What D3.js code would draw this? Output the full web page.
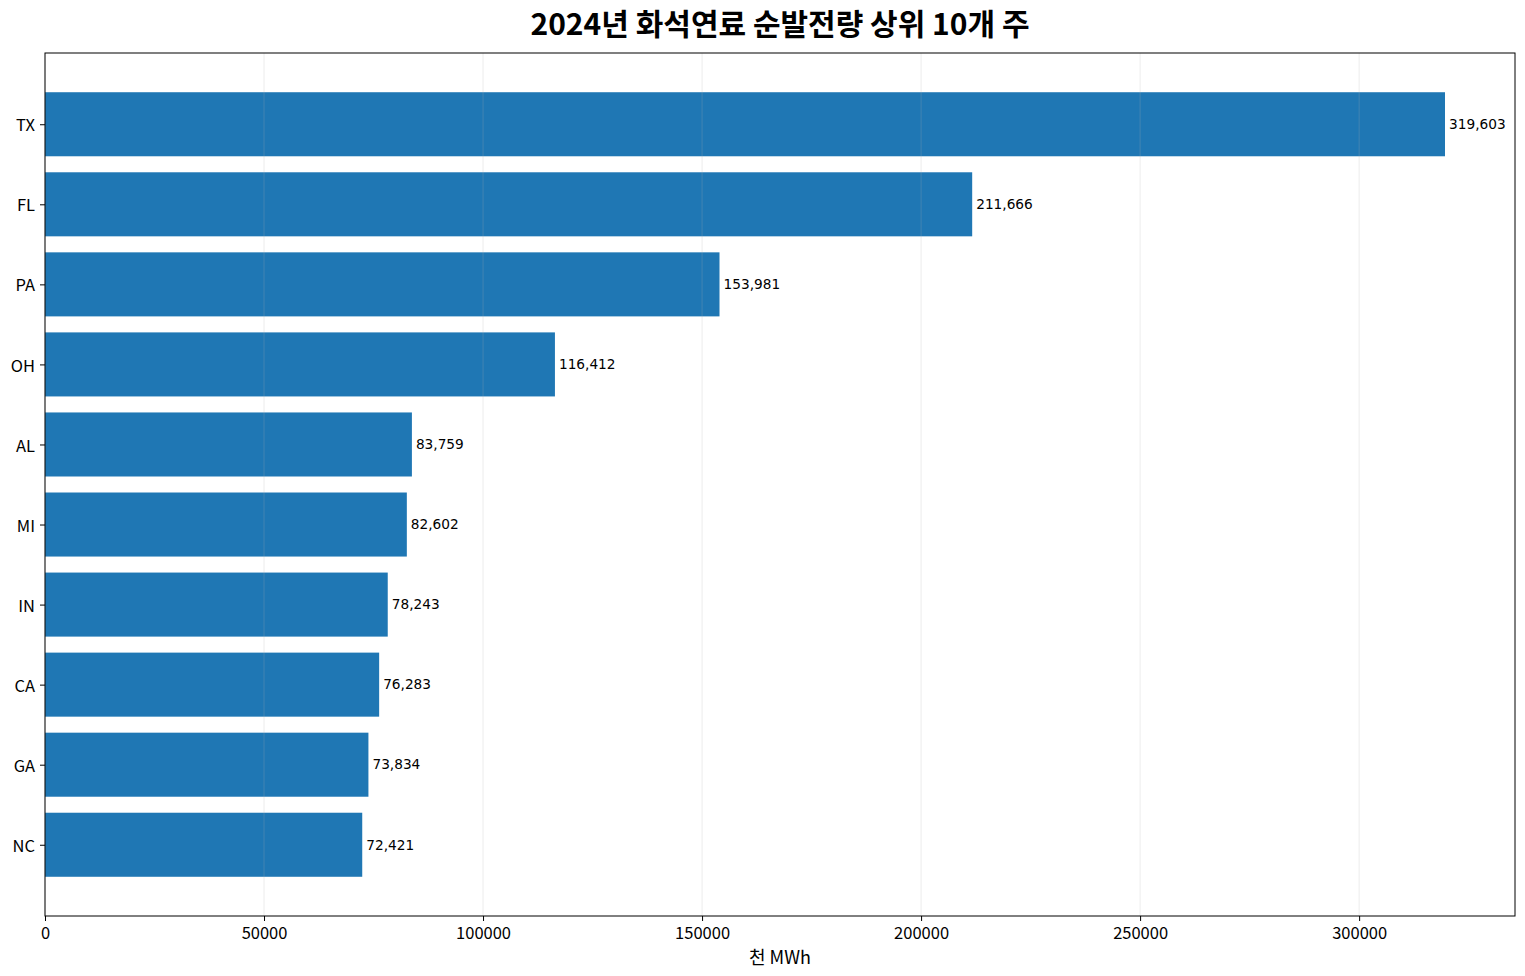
<!DOCTYPE html>
<html><head><meta charset="utf-8">
<script src="https://cdn.jsdelivr.net/npm/d3@7"></script>
<style>body{margin:0;background:#fff}svg{display:block}</style>
</head><body>
<script>
const states = ["TX","FL","PA","OH","AL","MI","IN","CA","GA","NC"];
const values = [319603,211666,153981,116412,83759,82602,78243,76283,73834,72421];
const xTicks = [0,50000,100000,150000,200000,250000,300000];
const title = "2024년 화석연료 순발전량 상위 10개 주";
const xLabel = "천 MWh";

const W=1525,H=976, L=45,R=1515,T=53,B=916;
const svg=d3.select("body").append("svg").attr("width",W).attr("height",H);
const xmax=d3.max(values)*1.05;
const x=d3.scaleLinear().domain([0,xmax]).range([L,R]);
const y=d3.scaleLinear().domain([-0.89,9.89]).range([T,B]);

svg.append("g").selectAll("rect").data(values).join("rect")
  .attr("x",x(0)).attr("y",(d,i)=>y(i-0.4)).attr("width",d=>x(d)-x(0))
  .attr("height",(d,i)=>y(i+0.4)-y(i-0.4)).attr("fill","#1f77b4");

// grid on top
svg.append("g").selectAll("line").data(xTicks).join("line")
  .attr("x1",d=>x(d)).attr("x2",d=>x(d)).attr("y1",T).attr("y2",B)
  .attr("stroke","#b0b0b0").attr("stroke-opacity",0.3).attr("stroke-width",0.8);

svg.append("g").selectAll("text").data(values).join("text")
  .attr("x",d=>x(d)+4).attr("y",(d,i)=>y(i)).attr("dy","0.35em")
  .attr("font-family","DejaVu Sans").attr("font-size",13.7).attr("fill","#000")
  .text(d=>d3.format(",")(d));

const tickFont="Noto Sans CJK KR";
const xa=d3.axisBottom(x).tickValues(xTicks).tickFormat(d3.format("d")).tickSize(5).tickPadding(6);
const gx=svg.append("g").attr("transform",`translate(0,${B})`).call(xa);
gx.select(".domain").remove();
gx.selectAll("text").attr("font-family",tickFont).attr("font-size",16.5).attr("fill","#000");
gx.selectAll("line").attr("stroke","#000").attr("stroke-width",1);

const ya=d3.axisLeft(y).tickValues(d3.range(states.length)).tickFormat(i=>states[i]).tickSize(5).tickPadding(5);
const gy=svg.append("g").attr("transform",`translate(${L},0)`).call(ya);
gy.select(".domain").remove();
gy.selectAll("text").attr("font-family",tickFont).attr("font-size",16.5).attr("fill","#000").attr("dy","0.4em");
gy.selectAll("line").attr("stroke","#000").attr("stroke-width",1);

svg.append("rect").attr("x",L).attr("y",T).attr("width",R-L).attr("height",B-T)
  .attr("fill","none").attr("stroke","#000").attr("stroke-width",1);

svg.append("text").attr("x",(L+R)/2).attr("y",35).attr("text-anchor","middle")
  .attr("font-family","Noto Sans CJK KR").attr("font-weight","bold").attr("font-size",30).text(title);
svg.append("text").attr("x",(L+R)/2).attr("y",964).attr("text-anchor","middle")
  .attr("font-family","Noto Sans CJK KR").attr("font-size",18).text(xLabel);
</script>
</body></html>
